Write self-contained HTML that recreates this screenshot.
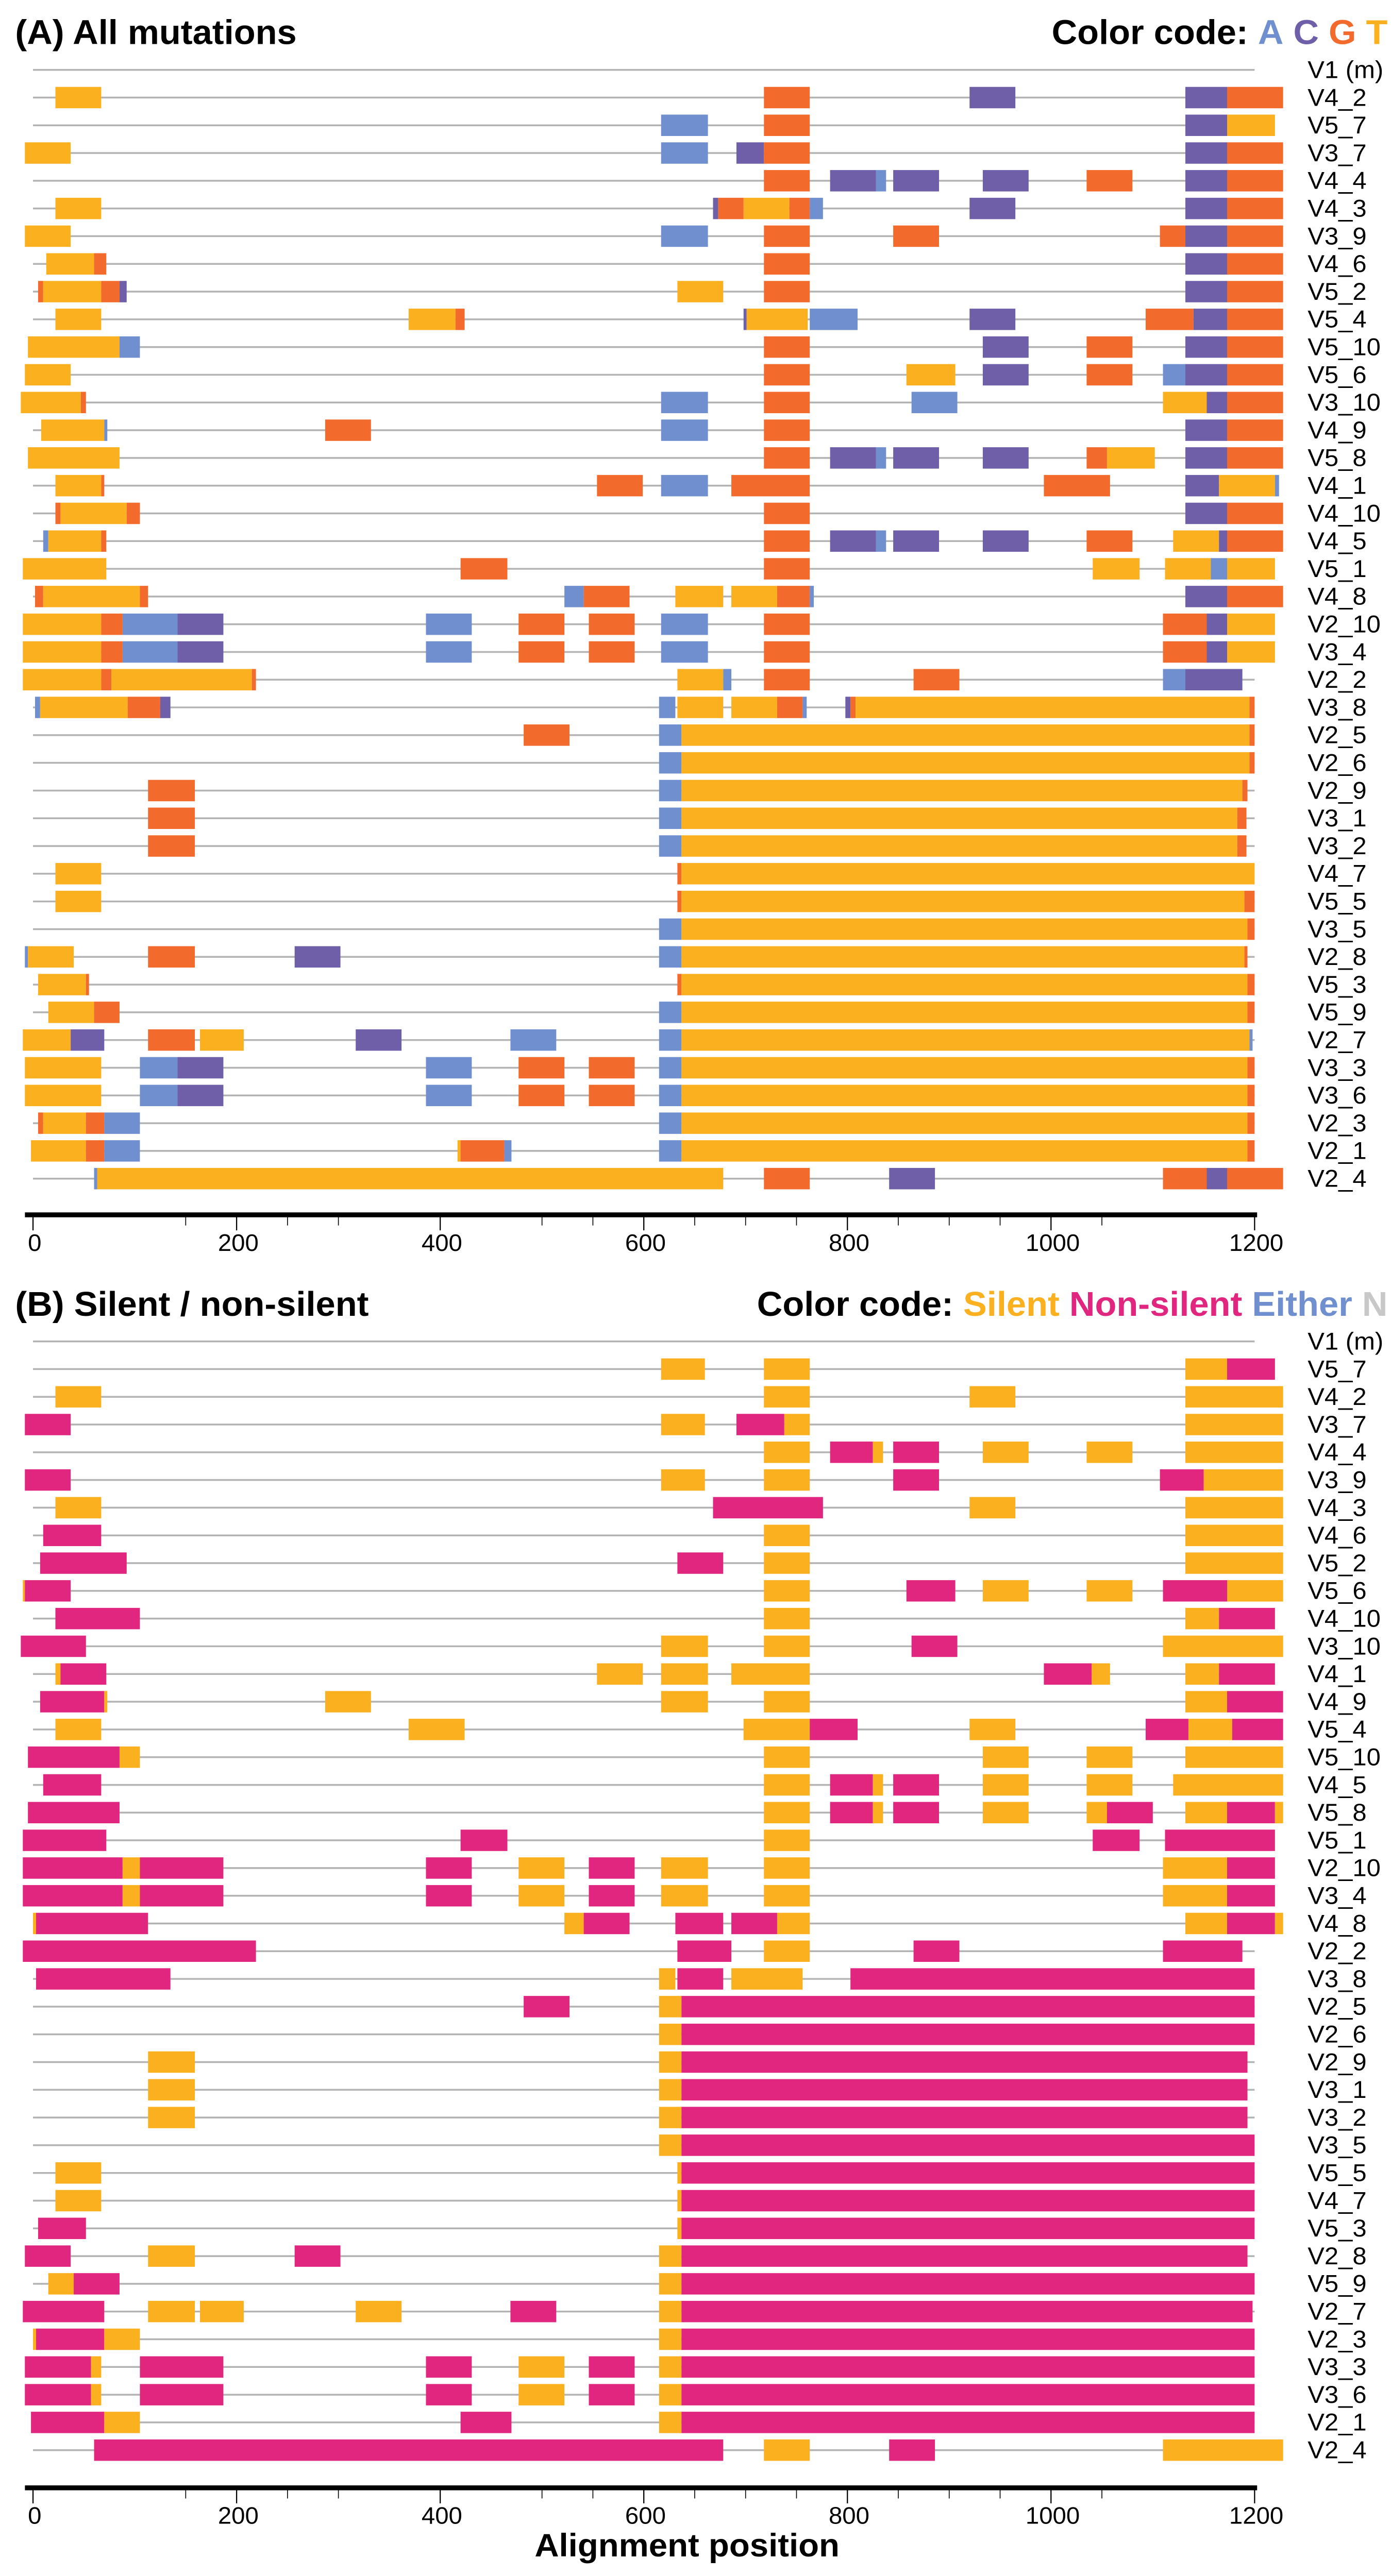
<!DOCTYPE html>
<html><head><meta charset="utf-8"><style>
html,body{margin:0;padding:0;background:#fff;width:100%;height:100%;overflow:hidden}
svg{display:block;position:absolute;left:0;top:0;width:100vw;height:100vh}
text{font-family:"Liberation Sans",Arial,sans-serif}
</style></head><body>
<svg id="chart" viewBox="0 0 826 1578" preserveAspectRatio="none" xmlns="http://www.w3.org/2000/svg">
<text x="9" y="27" font-size="21" font-weight="bold">(A) All mutations</text>
<text x="824" y="27" font-size="21" font-weight="bold" text-anchor="end">Color code: <tspan fill="#6f8fcf">A</tspan> <tspan fill="#6f5fa8">C</tspan> <tspan fill="#f26a2c">G</tspan> <tspan fill="#fbb01f">T</tspan></text>
<text x="9" y="806" font-size="21" font-weight="bold">(B) Silent / non-silent</text>
<text x="824" y="806" font-size="21" font-weight="bold" text-anchor="end">Color code: <tspan fill="#fbb01f">Silent</tspan> <tspan fill="#e0267e">Non-silent</tspan> <tspan fill="#6f8fcf">Either</tspan> <tspan fill="#c8c8c8">N</tspan></text>
<text x="408" y="1566" font-size="20" font-weight="bold" text-anchor="middle">Alignment position</text>
<g id="plot"></g>
</svg>
<script>
const ticks=[0,200,400,600,800,1000,1200];
const minorTicks=[150,250,300,500,550,650,700,750,850,900,950,1050];
const rowsA=["V1 (m)","V4_2","V5_7","V3_7","V4_4","V4_3","V3_9","V4_6","V5_2","V5_4","V5_10","V5_6","V3_10","V4_9","V5_8","V4_1","V4_10","V4_5","V5_1","V4_8","V2_10","V3_4","V2_2","V3_8","V2_5","V2_6","V2_9","V3_1","V3_2","V4_7","V5_5","V3_5","V2_8","V5_3","V5_9","V2_7","V3_3","V3_6","V2_3","V2_1","V2_4"];
const segsA=[
[],
[[22,67,"T"],[718,763,"G"],[920,965,"C"],[1132,1173,"C"],[1173,1228,"G"]],
[[617,663,"A"],[718,763,"G"],[1132,1173,"C"],[1173,1220,"T"]],
[[-8,37,"T"],[617,663,"A"],[691,718,"C"],[718,763,"G"],[1132,1173,"C"],[1173,1228,"G"]],
[[718,763,"G"],[783,828,"C"],[828,838,"A"],[845,890,"C"],[933,978,"C"],[1035,1080,"G"],[1132,1173,"C"],[1173,1228,"G"]],
[[22,67,"T"],[668,673,"C"],[673,698,"G"],[698,743,"T"],[743,763,"G"],[763,776,"A"],[920,965,"C"],[1132,1173,"C"],[1173,1228,"G"]],
[[-8,37,"T"],[617,663,"A"],[718,763,"G"],[845,890,"G"],[1107,1132,"G"],[1132,1173,"C"],[1173,1228,"G"]],
[[13,60,"T"],[60,72,"G"],[718,763,"G"],[1132,1173,"C"],[1173,1228,"G"]],
[[5,10,"G"],[10,67,"T"],[67,85,"G"],[85,92,"C"],[633,678,"T"],[718,763,"G"],[1132,1173,"C"],[1173,1228,"G"]],
[[22,67,"T"],[369,415,"T"],[415,424,"G"],[698,701,"C"],[701,761,"T"],[763,810,"A"],[920,965,"C"],[1093,1140,"G"],[1140,1173,"C"],[1173,1228,"G"]],
[[-5,85,"T"],[85,105,"A"],[718,763,"G"],[933,978,"C"],[1035,1080,"G"],[1132,1173,"C"],[1173,1228,"G"]],
[[-8,37,"T"],[718,763,"G"],[858,906,"T"],[933,978,"C"],[1035,1080,"G"],[1110,1132,"A"],[1132,1173,"C"],[1173,1228,"G"]],
[[-12,47,"T"],[47,52,"G"],[617,663,"A"],[718,763,"G"],[863,908,"A"],[1110,1153,"T"],[1153,1173,"C"],[1173,1228,"G"]],
[[8,70,"T"],[70,73,"A"],[287,332,"G"],[617,663,"A"],[718,763,"G"],[1132,1173,"C"],[1173,1228,"G"]],
[[-5,85,"T"],[718,763,"G"],[783,828,"C"],[828,838,"A"],[845,890,"C"],[933,978,"C"],[1035,1055,"G"],[1055,1102,"T"],[1132,1173,"C"],[1173,1228,"G"]],
[[22,67,"T"],[67,70,"G"],[554,599,"G"],[617,663,"A"],[686,763,"G"],[993,1058,"G"],[1132,1165,"C"],[1165,1220,"T"],[1220,1224,"A"]],
[[22,27,"G"],[27,92,"T"],[92,105,"G"],[718,763,"G"],[1132,1173,"C"],[1173,1228,"G"]],
[[10,15,"A"],[15,67,"T"],[67,72,"G"],[718,763,"G"],[783,828,"C"],[828,838,"A"],[845,890,"C"],[933,978,"C"],[1035,1080,"G"],[1120,1165,"T"],[1165,1173,"C"],[1173,1228,"G"]],
[[-10,72,"T"],[420,466,"G"],[718,763,"G"],[1041,1087,"T"],[1112,1157,"T"],[1157,1173,"A"],[1173,1220,"T"]],
[[2,10,"G"],[10,105,"T"],[105,113,"G"],[522,541,"A"],[541,586,"G"],[631,678,"T"],[686,731,"T"],[731,763,"G"],[763,767,"A"],[1132,1173,"C"],[1173,1228,"G"]],
[[-10,67,"T"],[67,88,"G"],[88,142,"A"],[142,187,"C"],[386,431,"A"],[477,522,"G"],[546,591,"G"],[617,663,"A"],[718,763,"G"],[1110,1153,"G"],[1153,1173,"C"],[1173,1220,"T"]],
[[-10,67,"T"],[67,88,"G"],[88,142,"A"],[142,187,"C"],[386,431,"A"],[477,522,"G"],[546,591,"G"],[617,663,"A"],[718,763,"G"],[1110,1153,"G"],[1153,1173,"C"],[1173,1220,"T"]],
[[-10,67,"T"],[67,77,"G"],[77,215,"T"],[215,219,"G"],[633,678,"T"],[678,686,"A"],[718,763,"G"],[865,910,"G"],[1110,1132,"A"],[1132,1188,"C"]],
[[2,7,"A"],[7,93,"T"],[93,125,"G"],[125,135,"C"],[615,631,"A"],[633,678,"T"],[686,731,"T"],[731,756,"G"],[756,760,"A"],[798,803,"C"],[803,808,"G"],[808,1195,"T"],[1195,1200,"G"]],
[[482,527,"G"],[615,637,"A"],[637,1195,"T"],[1195,1200,"G"]],
[[615,637,"A"],[637,1195,"T"],[1195,1200,"G"]],
[[113,159,"G"],[615,637,"A"],[637,1188,"T"],[1188,1193,"G"]],
[[113,159,"G"],[615,637,"A"],[637,1183,"T"],[1183,1192,"G"]],
[[113,159,"G"],[615,637,"A"],[637,1183,"T"],[1183,1192,"G"]],
[[22,67,"T"],[633,637,"G"],[637,1200,"T"]],
[[22,67,"T"],[633,637,"G"],[637,1190,"T"],[1190,1200,"G"]],
[[615,637,"A"],[637,1193,"T"],[1193,1200,"G"]],
[[-8,-5,"A"],[-5,40,"T"],[113,159,"G"],[257,302,"C"],[615,637,"A"],[637,1190,"T"],[1190,1193,"G"]],
[[5,52,"T"],[52,55,"G"],[633,637,"G"],[637,1193,"T"],[1193,1200,"G"]],
[[15,60,"T"],[60,85,"G"],[615,637,"A"],[637,1193,"T"],[1193,1200,"G"]],
[[-10,37,"T"],[37,70,"C"],[113,159,"G"],[164,207,"T"],[317,362,"C"],[469,514,"A"],[615,637,"A"],[637,1195,"T"],[1195,1198,"A"]],
[[-8,67,"T"],[105,142,"A"],[142,187,"C"],[386,431,"A"],[477,522,"G"],[546,591,"G"],[615,637,"A"],[637,1193,"T"],[1193,1200,"G"]],
[[-8,67,"T"],[105,142,"A"],[142,187,"C"],[386,431,"A"],[477,522,"G"],[546,591,"G"],[615,637,"A"],[637,1193,"T"],[1193,1200,"G"]],
[[5,10,"G"],[10,52,"T"],[52,70,"G"],[70,105,"A"],[615,637,"A"],[637,1193,"T"],[1193,1200,"G"]],
[[-2,52,"T"],[52,70,"G"],[70,105,"A"],[417,420,"T"],[420,463,"G"],[463,470,"A"],[615,637,"A"],[637,1193,"T"],[1193,1200,"G"]],
[[60,63,"A"],[63,678,"T"],[718,763,"G"],[841,886,"C"],[1110,1153,"G"],[1153,1173,"C"],[1173,1228,"G"]]
];
const rowsB=["V1 (m)","V5_7","V4_2","V3_7","V4_4","V3_9","V4_3","V4_6","V5_2","V5_6","V4_10","V3_10","V4_1","V4_9","V5_4","V5_10","V4_5","V5_8","V5_1","V2_10","V3_4","V4_8","V2_2","V3_8","V2_5","V2_6","V2_9","V3_1","V3_2","V3_5","V5_5","V4_7","V5_3","V2_8","V5_9","V2_7","V2_3","V3_3","V3_6","V2_1","V2_4"];
const segsB=[
[],
[[617,660,"S"],[718,763,"S"],[1132,1173,"S"],[1173,1220,"N"]],
[[22,67,"S"],[718,763,"S"],[920,965,"S"],[1132,1228,"S"]],
[[-8,37,"N"],[617,660,"S"],[691,738,"N"],[738,763,"S"],[1132,1228,"S"]],
[[718,763,"S"],[783,825,"N"],[825,835,"S"],[845,890,"N"],[933,978,"S"],[1035,1080,"S"],[1132,1228,"S"]],
[[-8,37,"N"],[617,660,"S"],[718,763,"S"],[845,890,"N"],[1107,1150,"N"],[1150,1228,"S"]],
[[22,67,"S"],[668,776,"N"],[920,965,"S"],[1132,1228,"S"]],
[[10,67,"N"],[718,763,"S"],[1132,1228,"S"]],
[[7,92,"N"],[633,678,"N"],[718,763,"S"],[1132,1228,"S"]],
[[-10,-8,"S"],[-8,37,"N"],[718,763,"S"],[858,906,"N"],[933,978,"S"],[1035,1080,"S"],[1110,1173,"N"],[1173,1228,"S"]],
[[22,105,"N"],[718,763,"S"],[1132,1165,"S"],[1165,1220,"N"]],
[[-12,52,"N"],[617,663,"S"],[718,763,"S"],[863,908,"N"],[1110,1228,"S"]],
[[22,27,"S"],[27,72,"N"],[554,599,"S"],[617,663,"S"],[686,763,"S"],[993,1040,"N"],[1040,1058,"S"],[1132,1165,"S"],[1165,1220,"N"]],
[[7,70,"N"],[70,73,"S"],[287,332,"S"],[617,663,"S"],[718,763,"S"],[1132,1173,"S"],[1173,1228,"N"]],
[[22,67,"S"],[369,424,"S"],[698,763,"S"],[763,810,"N"],[920,965,"S"],[1093,1135,"N"],[1135,1178,"S"],[1178,1228,"N"]],
[[-5,85,"N"],[85,105,"S"],[718,763,"S"],[933,978,"S"],[1035,1080,"S"],[1132,1228,"S"]],
[[10,67,"N"],[718,763,"S"],[783,825,"N"],[825,835,"S"],[845,890,"N"],[933,978,"S"],[1035,1080,"S"],[1120,1228,"S"]],
[[-5,85,"N"],[718,763,"S"],[783,825,"N"],[825,835,"S"],[845,890,"N"],[933,978,"S"],[1035,1055,"S"],[1055,1100,"N"],[1132,1173,"S"],[1173,1220,"N"],[1220,1228,"S"]],
[[-10,72,"N"],[420,466,"N"],[718,763,"S"],[1041,1087,"N"],[1112,1220,"N"]],
[[-10,88,"N"],[88,105,"S"],[105,187,"N"],[386,431,"N"],[477,522,"S"],[546,591,"N"],[617,663,"S"],[718,763,"S"],[1110,1173,"S"],[1173,1220,"N"]],
[[-10,88,"N"],[88,105,"S"],[105,187,"N"],[386,431,"N"],[477,522,"S"],[546,591,"N"],[617,663,"S"],[718,763,"S"],[1110,1173,"S"],[1173,1220,"N"]],
[[0,3,"S"],[3,113,"N"],[522,541,"S"],[541,586,"N"],[631,678,"N"],[686,731,"N"],[731,763,"S"],[1132,1173,"S"],[1173,1220,"N"],[1220,1228,"S"]],
[[-10,219,"N"],[633,686,"N"],[718,763,"S"],[865,910,"N"],[1110,1188,"N"]],
[[3,135,"N"],[615,631,"S"],[633,678,"N"],[686,756,"S"],[803,1200,"N"]],
[[482,527,"N"],[615,637,"S"],[637,1200,"N"]],
[[615,637,"S"],[637,1200,"N"]],
[[113,159,"S"],[615,637,"S"],[637,1193,"N"]],
[[113,159,"S"],[615,637,"S"],[637,1193,"N"]],
[[113,159,"S"],[615,637,"S"],[637,1193,"N"]],
[[615,637,"S"],[637,1200,"N"]],
[[22,67,"S"],[633,637,"S"],[637,1200,"N"]],
[[22,67,"S"],[633,637,"S"],[637,1200,"N"]],
[[5,52,"N"],[633,637,"S"],[637,1200,"N"]],
[[-8,37,"N"],[113,159,"S"],[257,302,"N"],[615,637,"S"],[637,1193,"N"]],
[[15,40,"S"],[40,85,"N"],[615,637,"S"],[637,1200,"N"]],
[[-10,70,"N"],[113,159,"S"],[164,207,"S"],[317,362,"S"],[469,514,"N"],[615,637,"S"],[637,1198,"N"]],
[[0,3,"S"],[3,70,"N"],[70,105,"S"],[615,637,"S"],[637,1200,"N"]],
[[-8,57,"N"],[57,67,"S"],[105,187,"N"],[386,431,"N"],[477,522,"S"],[546,591,"N"],[615,637,"S"],[637,1200,"N"]],
[[-8,57,"N"],[57,67,"S"],[105,187,"N"],[386,431,"N"],[477,522,"S"],[546,591,"N"],[615,637,"S"],[637,1200,"N"]],
[[-2,70,"N"],[70,105,"S"],[420,470,"N"],[615,637,"S"],[637,1200,"N"]],
[[60,678,"N"],[718,763,"S"],[841,886,"N"],[1110,1228,"S"]]
];
const colorMap={A:"#6f8fcf",C:"#6f5fa8",G:"#f26a2c",T:"#fbb01f",S:"#fbb01f",N:"#e0267e",E:"#6f8fcf"};
const NS="http://www.w3.org/2000/svg";
const plot=document.getElementById("plot");
const X0=19.6,XS=725.4/1200,ROWH=16.98,BARH=13.1;
function xs(u){return X0+u*XS;}
function mk(tag,attrs){const e=document.createElementNS(NS,tag);for(const k in attrs)e.setAttribute(k,attrs[k]);plot.appendChild(e);return e;}
function panel(rows,segs,y0,axisY,key){
  rows.forEach((name,i)=>{
    const y=y0+i*ROWH;
    const ln=mk("line",{x1:xs(0),x2:xs(1200),y1:y,y2:y,stroke:"#b3b3b3","stroke-width":1.1});
    
    
    const t=mk("text",{x:776.5,y:y+5,"font-size":15});
    t.textContent=name;
    
    
    segs[i].forEach(s=>{
      const r=mk("rect",{x:xs(s[0]),y:y-BARH/2,width:Math.max(0.5,xs(s[1])-xs(s[0])),height:BARH,fill:colorMap[s[2]]});
      
      
    });
  });
  const ax=mk("line",{x1:14.8,x2:746.5,y1:axisY,y2:axisY,stroke:"#000","stroke-width":3});
  
  
  minorTicks.forEach(v=>{
    const tk=mk("line",{x1:xs(v),x2:xs(v),y1:axisY,y2:axisY+6.5,stroke:"#000","stroke-width":0.5});
    
    
  });
  ticks.forEach(v=>{
    const tk=mk("line",{x1:xs(v),x2:xs(v),y1:axisY,y2:axisY+9.5,stroke:"#000","stroke-width":0.7});
    
    
    const tl=mk("text",{x:xs(v)+1,y:axisY+22,"font-size":14.5,"text-anchor":"middle"});
    tl.textContent=v;
    
    
  });
}
panel(rowsA,segsA,42.8,744.2,"a");
panel(rowsB,segsB,821.7,1524,"b");
</script>
</body></html>
